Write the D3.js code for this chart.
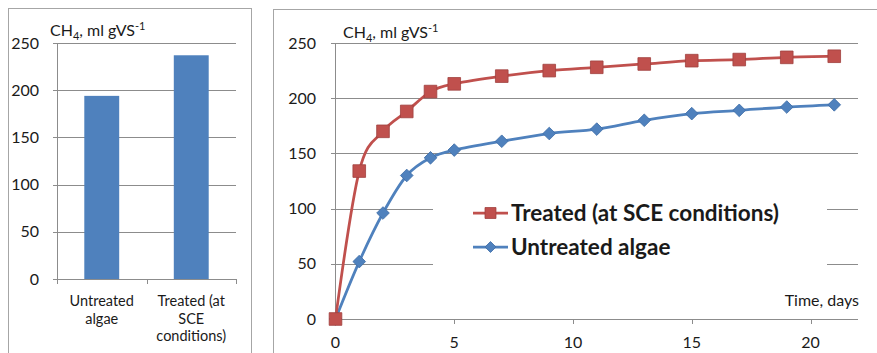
<!DOCTYPE html>
<html>
<head>
<meta charset="utf-8">
<script src="https://cdn.jsdelivr.net/npm/d3@7"></script>
<style>
  body { margin: 0; background: #fff; }
  svg text { font-family: Lato, 'Open Sans', sans-serif; fill: #1a1a1a; }
</style>
</head>
<body>
<script>
// data
let barCategories = [['Untreated', 'algae'], ['Treated (at', 'SCE', 'conditions)']]
let barValues = [194, 237]

let days = [0, 1, 2, 3, 4, 5, 7, 9, 11, 13, 15, 17, 19, 21]
let treated = [0, 134, 170, 188, 206, 213, 220, 225, 228, 231, 234, 235, 237, 238]
let untreated = [0, 52, 96, 130, 146, 153, 161, 168, 172, 180, 186, 189, 192, 194]

let yTicks = [0, 50, 100, 150, 200, 250]
let xTicks = [0, 5, 10, 15, 20]
let legendLabels = ['Treated (at SCE conditions)', 'Untreated algae']

let red = '#c0504d', redDark = '#a0403d'
let blue = '#4f81bd', blueDark = '#3f6ea8'
let grid = '#8c8c8c', frame = '#a6a6a6'

var svg = d3.select('body')
  .append('svg')
  .attr('width', 877)
  .attr('height', 353)

// panel frames
svg.append('rect')
  .attr('x', 8.5).attr('y', 8.5)
  .attr('width', 243).attr('height', 400)
  .attr('fill', 'none').attr('stroke', frame)
svg.append('rect')
  .attr('x', 273.5).attr('y', 9.5)
  .attr('width', 640).attr('height', 400)
  .attr('fill', 'none').attr('stroke', frame)

// y axis title with sub/superscript
function drawTitle (x, y) {
  let t = svg.append('text').attr('x', x).attr('y', y).style('font-size', '16px')
  t.append('tspan').text('CH')
  t.append('tspan').text('4').style('font-size', '11px').attr('dy', 4)
  t.append('tspan').text(', ml gVS').attr('dy', -4)
  t.append('tspan').text('-1').style('font-size', '11px').attr('dy', -6)
}

// ---------- left: bar chart ----------
let yL = d3.scaleLinear().domain([0, 250]).range([279, 43])
let xL = d3.scaleBand()
  .domain(barCategories.map((d, i) => i))
  .range([57, 236])
  .padding(0)

// gridlines + left tick marks
svg.append('g')
  .selectAll('line')
  .data(yTicks.filter(d => d > 0))
  .enter().append('line')
    .attr('x1', 53).attr('x2', 236)
    .attr('y1', d => Math.round(yL(d)) + 0.5)
    .attr('y2', d => Math.round(yL(d)) + 0.5)
    .attr('stroke', grid)

svg.selectAll('.bar')
  .data(barValues)
  .enter().append('rect')
    .attr('class', 'bar')
    .attr('x', (d, i) => xL(i) + xL.bandwidth() * 0.305)
    .attr('width', xL.bandwidth() * 0.39)
    .attr('y', d => yL(d))
    .attr('height', d => yL(0) - yL(d))
    .attr('fill', blue)

// y axis line
svg.append('line')
  .attr('x1', 57.5).attr('x2', 57.5)
  .attr('y1', yL(250)).attr('y2', yL(0))
  .attr('stroke', grid)
// x axis line with category ticks
svg.append('line')
  .attr('x1', 53).attr('x2', 236)
  .attr('y1', Math.round(yL(0)) + 0.5).attr('y2', Math.round(yL(0)) + 0.5)
  .attr('stroke', grid)
svg.append('g')
  .selectAll('line')
  .data([0, 1, 2])
  .enter().append('line')
    .attr('x1', d => Math.round(57 + d * xL.bandwidth()) + 0.5)
    .attr('x2', d => Math.round(57 + d * xL.bandwidth()) + 0.5)
    .attr('y1', yL(0)).attr('y2', yL(0) + 5)
    .attr('stroke', grid)

svg.append('g')
  .selectAll('text')
  .data(yTicks)
  .enter().append('text')
    .attr('x', 39)
    .attr('y', d => yL(d) + 5.5)
    .attr('text-anchor', 'end')
    .style('font-size', '16px')
    .text(d => d)

barCategories.forEach(function (lines, i) {
  let cx = xL(i) + xL.bandwidth() / 2
  lines.forEach(function (s, j) {
    svg.append('text')
      .attr('x', cx)
      .attr('y', 306 + j * 17.5)
      .attr('text-anchor', 'middle')
      .style('font-size', '14.5px')
      .text(s)
  })
})

drawTitle(50, 36)

// ---------- right: line chart ----------
let x = d3.scaleLinear().domain([0, 22]).range([335.5, 858])
let y = d3.scaleLinear().domain([0, 250]).range([319, 43])

svg.append('g')
  .selectAll('line')
  .data(yTicks.filter(d => d > 0))
  .enter().append('line')
    .attr('x1', 331).attr('x2', 858)
    .attr('y1', d => Math.round(y(d)) + 0.5)
    .attr('y2', d => Math.round(y(d)) + 0.5)
    .attr('stroke', grid)

// legend background hides the grid behind it
svg.append('rect')
  .attr('x', 433).attr('y', 168)
  .attr('width', 394).attr('height', 106)
  .attr('fill', '#fff')

svg.append('line')
  .attr('x1', x(0)).attr('x2', x(0))
  .attr('y1', y(250)).attr('y2', y(0))
  .attr('stroke', grid)
svg.append('line')
  .attr('x1', 331).attr('x2', 858)
  .attr('y1', Math.round(y(0)) + 0.5).attr('y2', Math.round(y(0)) + 0.5)
  .attr('stroke', grid)
svg.append('g')
  .selectAll('line')
  .data(xTicks)
  .enter().append('line')
    .attr('x1', d => Math.round(x(d)) + 0.5)
    .attr('x2', d => Math.round(x(d)) + 0.5)
    .attr('y1', y(0)).attr('y2', y(0) + 5)
    .attr('stroke', grid)

svg.append('g')
  .selectAll('text')
  .data(yTicks)
  .enter().append('text')
    .attr('x', 316)
    .attr('y', d => y(d) + 5.5)
    .attr('text-anchor', 'end')
    .style('font-size', '16px')
    .text(d => d)

svg.append('g')
  .selectAll('text')
  .data(xTicks)
  .enter().append('text')
    .attr('x', d => x(d))
    .attr('y', 348)
    .attr('text-anchor', 'middle')
    .style('font-size', '16px')
    .text(d => d)

svg.append('text')
  .attr('x', 859).attr('y', 306)
  .attr('text-anchor', 'end')
  .style('font-size', '16px')
  .text('Time, days')

drawTitle(343, 38)

// smooth lines like excel
let line = d3.line()
  .x(d => x(d[0]))
  .y(d => y(d[1]))
  .curve(d3.curveCatmullRom.alpha(0))

let untreatedPts = days.map((d, i) => [d, untreated[i]])
let treatedPts = days.map((d, i) => [d, treated[i]])

svg.append('path')
  .datum(untreatedPts)
  .attr('d', line)
  .attr('fill', 'none')
  .attr('stroke', blue)
  .attr('stroke-width', 2.75)

svg.append('path')
  .datum(treatedPts)
  .attr('d', line)
  .attr('fill', 'none')
  .attr('stroke', red)
  .attr('stroke-width', 2.75)

let diamond = d3.symbol().type(d3.symbolSquare).size(80)
let square = d3.symbol().type(d3.symbolSquare).size(160)

svg.selectAll('.dia')
  .data(untreatedPts)
  .enter().append('path')
    .attr('class', 'dia')
    .attr('d', diamond)
    .attr('transform', d => 'translate(' + x(d[0]) + ',' + y(d[1]) + ') rotate(45)')
    .attr('fill', blue)
    .attr('stroke', blueDark)
    .attr('stroke-width', 0.8)

svg.selectAll('.sq')
  .data(treatedPts)
  .enter().append('path')
    .attr('class', 'sq')
    .attr('d', square)
    .attr('transform', d => 'translate(' + x(d[0]) + ',' + y(d[1]) + ')')
    .attr('fill', red)
    .attr('stroke', redDark)
    .attr('stroke-width', 0.8)

// legend
let legendRows = [
  {label: legendLabels[0], color: red, dark: redDark, sym: d3.symbol().type(d3.symbolSquare).size(120), rot: 0, y: 213},
  {label: legendLabels[1], color: blue, dark: blueDark, sym: d3.symbol().type(d3.symbolSquare).size(60), rot: 45, y: 247}
]
legendRows.forEach(function (r) {
  svg.append('line')
    .attr('x1', 473).attr('x2', 508)
    .attr('y1', r.y).attr('y2', r.y)
    .attr('stroke', r.color).attr('stroke-width', 2.75)
  svg.append('path')
    .attr('d', r.sym())
    .attr('transform', 'translate(490.5,' + r.y + ') rotate(' + r.rot + ')')
    .attr('fill', r.color)
    .attr('stroke', r.dark).attr('stroke-width', 0.8)
  svg.append('text')
    .attr('x', 511)
    .attr('y', r.y + 8)
    .style('font-size', '22.5px')
    .style('font-weight', 'bold')
    .text(r.label)
})
</script>
</body>
</html>
